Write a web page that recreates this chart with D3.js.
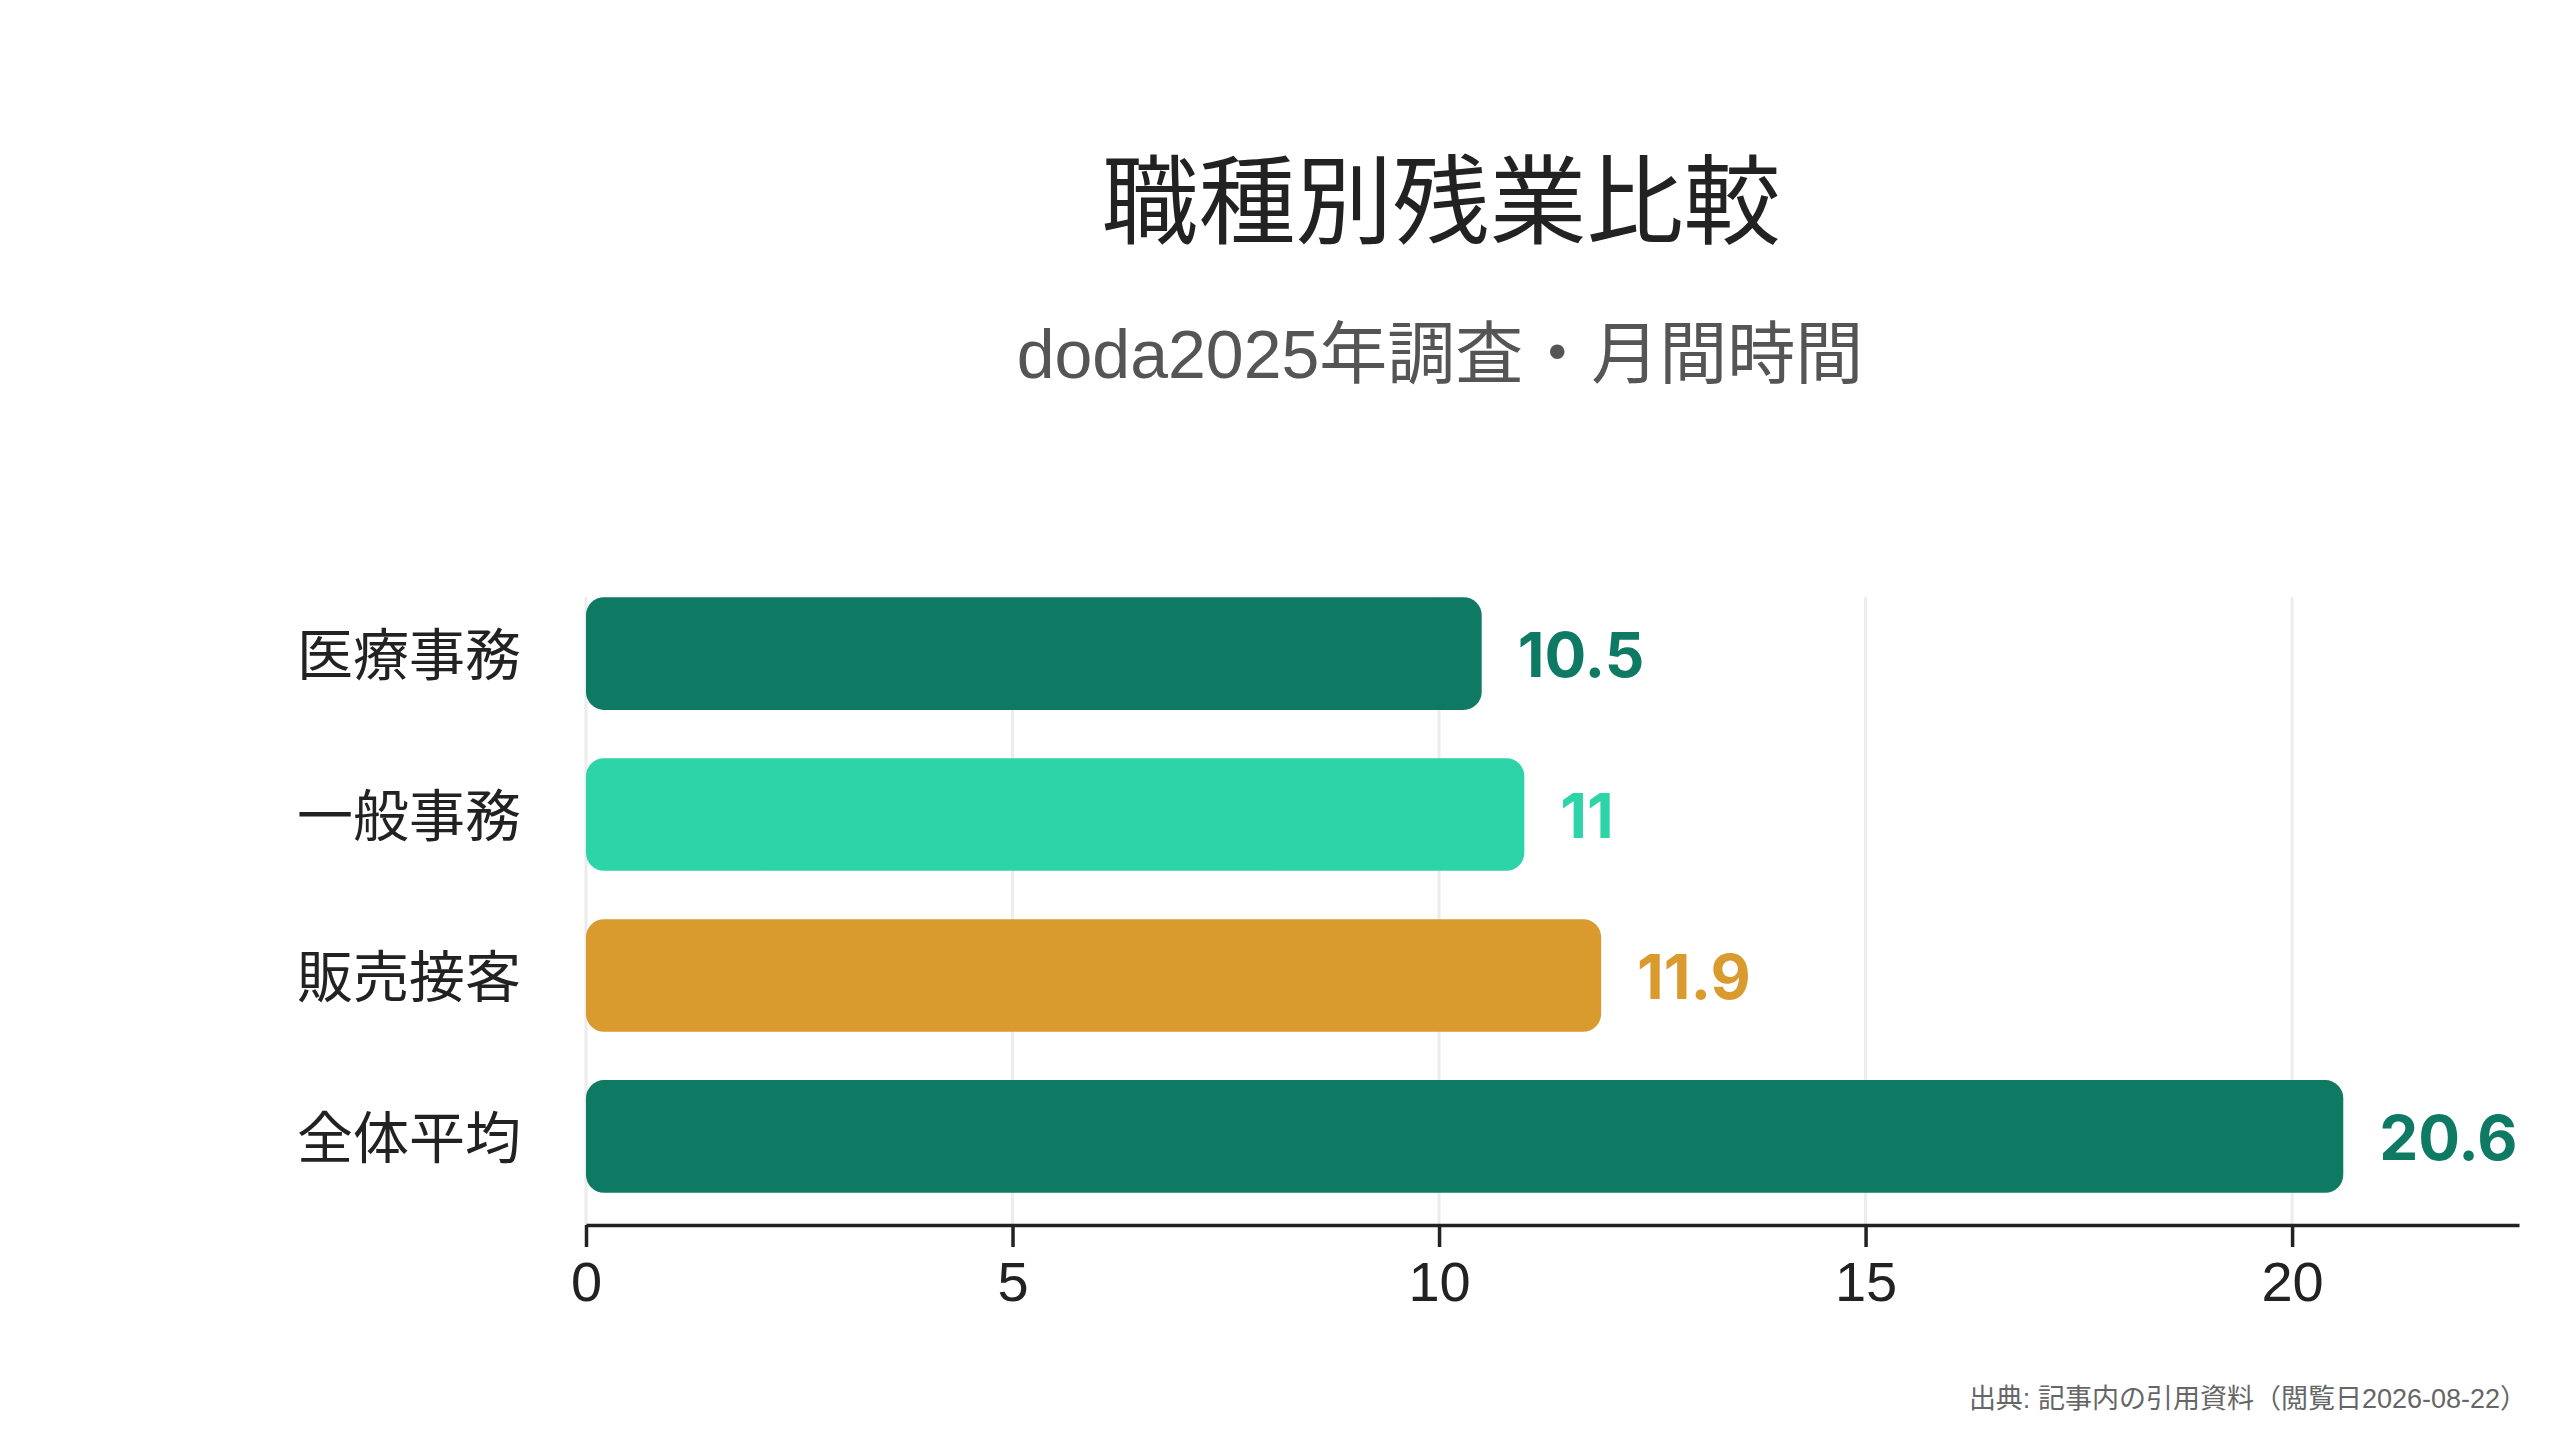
<!DOCTYPE html>
<html>
<head>
<meta charset="utf-8">
<script src="https://cdn.jsdelivr.net/npm/d3@7"></script>
<style>
  html, body { margin: 0; padding: 0; background: #ffffff; }
  svg { display: block; }
</style>
</head>
<body>
<div id="chart"></div>
<script>
const categories = ["医療事務", "一般事務", "販売接客", "全体平均"];
const values = [10.5, 11, 11.9, 20.6];
const barColors = ["#0f7a64", "#2dd4a7", "#d99a2e", "#0f7a64"];
const tickValues = [0, 5, 10, 15, 20];
const titleText = "職種別残業比較";
const subtitleText = "doda2025年調査・月間時間";
const sourceText = "出典: 記事内の引用資料（閲覧日2026-08-22）";

const W = 2560, H = 1440;
const cjk = "'Noto Sans CJK JP', 'Noto Sans CJK SC', sans-serif";
const latin = "'Liberation Sans', 'Noto Sans CJK JP', sans-serif";

const svg = d3.select("#chart").append("svg")
  .attr("width", W).attr("height", H)
  .attr("viewBox", `0 0 ${W} ${H}`);

svg.append("rect").attr("width", W).attr("height", H).attr("fill", "#fff");

const axisY = 1225;
const x = d3.scaleLinear().domain([0, d3.max(values) * 1.1]).range([586, 2519]);
const y = d3.scaleBand().domain(categories).range([565, axisY])
  .paddingInner(0.3).paddingOuter(0.2);

// gridlines
svg.append("g").selectAll("line").data(tickValues).join("line")
  .attr("x1", d => x(d)).attr("x2", d => x(d))
  .attr("y1", y(categories[0])).attr("y2", axisY)
  .attr("stroke", "#ececec").attr("stroke-width", 3);

// bars
const rows = categories.map((c, i) => ({ c, v: values[i], col: barColors[i] }));
svg.append("g").selectAll("rect").data(rows).join("rect")
  .attr("x", x(0)).attr("y", d => y(d.c))
  .attr("width", d => x(d.v) - x(0)).attr("height", y.bandwidth())
  .attr("rx", 18).attr("ry", 18)
  .attr("fill", d => d.col);

// value labels
svg.append("g").selectAll("text").data(rows).join("text")
  .attr("x", d => x(d.v) + 36)
  .attr("y", d => y(d.c) + y.bandwidth() / 2)
  .attr("dy", "0.38em")
  .attr("fill", d => d.col)
  .attr("font-family", "Inter, 'Liberation Sans', sans-serif")
  .attr("font-weight", 700)
  .attr("font-size", 62)
  .text(d => d.v);

// category labels
svg.append("g").selectAll("text").data(categories).join("text")
  .attr("x", 521)
  .attr("y", d => y(d) + y.bandwidth() / 2)
  .attr("dy", "0.38em")
  .attr("text-anchor", "end")
  .attr("fill", "#222")
  .attr("font-family", cjk)
  .attr("font-size", 56)
  .text(d => d);

// x axis
const axis = svg.append("g").attr("transform", `translate(0,${axisY})`)
  .call(d3.axisBottom(x).tickValues(tickValues).tickSize(22).tickPadding(14).tickSizeOuter(0));
axis.select(".domain").attr("stroke", "#222").attr("stroke-width", 3.5);
axis.selectAll(".tick line").attr("stroke", "#222").attr("stroke-width", 3.5);
axis.selectAll(".tick text")
  .attr("fill", "#222")
  .attr("font-family", latin)
  .attr("font-size", 56);

// title
svg.append("text")
  .attr("x", 1441).attr("y", 236)
  .attr("text-anchor", "middle")
  .attr("fill", "#222")
  .attr("font-family", cjk)
  .attr("font-weight", 400)
  .attr("font-size", 97)
  .text(titleText);

svg.append("text")
  .attr("x", 1440).attr("y", 378)
  .attr("text-anchor", "middle")
  .attr("fill", "#555")
  .attr("font-family", latin)
  .attr("font-size", 68)
  .text(subtitleText);

svg.append("text")
  .attr("x", 2527).attr("y", 1408)
  .attr("text-anchor", "end")
  .attr("fill", "#666")
  .attr("font-family", latin)
  .attr("font-size", 27)
  .text(sourceText);
</script>
</body>
</html>
